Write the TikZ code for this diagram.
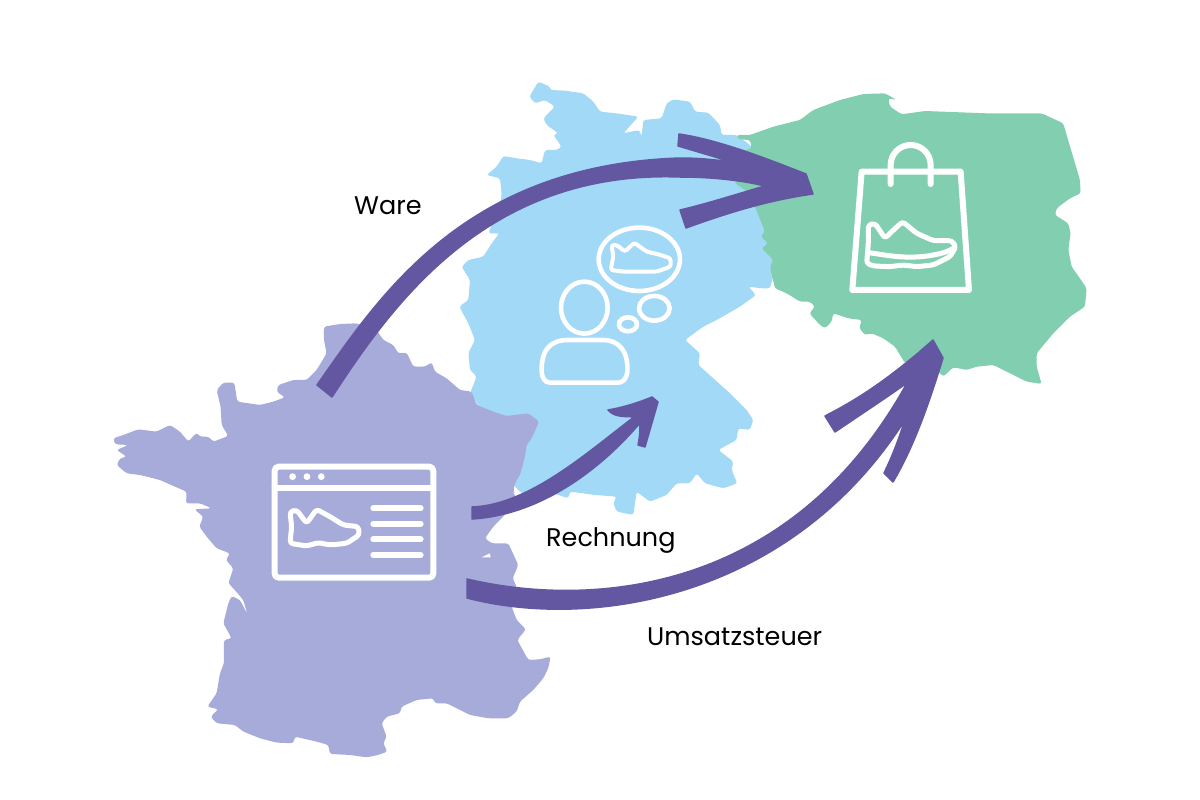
\documentclass[tikz,border=0pt]{standalone}
\usepackage{fontspec}
\setmainfont{Poppins}
\definecolor{frcol}{HTML}{A6ABD9}
\definecolor{decol}{HTML}{A2D9F7}
\definecolor{plcol}{HTML}{81CFB0}
\definecolor{arcol}{HTML}{6357A2}
\tikzset{
  mapshape/.style={line join=round,rounded corners=2.5pt},
  icon/.style={draw=white,line width=#1,line join=round,line cap=round},
  icon/.default=6pt,
  brush/.style={fill=arcol,draw=arcol,line width=1.5pt,line join=round},
  lbl/.style={anchor=base west,inner sep=0pt,text=black,font=\fontsize{25.5}{30}\selectfont}
}
\begin{document}
\begin{tikzpicture}[x=1pt,y=-1pt]
\useasboundingbox (0,0) rectangle (1200,800);
\fill[white] (0,0) rectangle (1200,800);
% Germany
\begin{scope}[shift={(450,70)},x=0.3333pt,y=-0.3333pt]
\fill[decol,mapshape] (265,35)--(300,50)--(300,60)--(345,62)--(400,70)--(430,95)--(450,125)--(500,130)--(565,140)--(520,190)--(568,180)--(575,200)--(580,150)--(635,145)--(650,100)--(670,88)--(720,95)--(735,125)--(775,128)--(810,165)--(815,195)--(860,195)--(900,225)--(960,300)--(975,450)--(975,600)--(960,655)--(935,655)--(895,650)--(918,675)--(870,710)--(800,750)--(760,770)--(705,810)--(750,850)--(745,885)--(790,925)--(840,970)--(890,1020)--(910,1050)--(900,1080)--(865,1075)--(860,1110)--(805,1140)--(850,1175)--(845,1200)--(862,1240)--(820,1255)--(765,1240)--(740,1210)--(720,1240)--(680,1240)--(650,1275)--(600,1295)--(560,1265)--(550,1335)--(500,1325)--(490,1300)--(500,1280)--(435,1275)--(360,1265)--(355,1285)--(310,1270)--(215,1270)--(190,1245)--(215,1200)--(225,1130)--(150,1100)--(60,970)--(80,920)--(60,900)--(55,850)--(75,810)--(55,760)--(28,710)--(55,690)--(60,630)--(35,590)--(55,570)--(100,560)--(125,520)--(148,490)--(115,490)--(125,465)--(150,420)--(155,370)--(150,325)--(110,315)--(140,290)--(160,258)--(200,265)--(240,270)--(275,280)--(285,240)--(320,240)--(335,230)--(310,195)--(325,190)--(290,165)--(280,145)--(315,110)--(285,90)--(255,100)--(238,80)--cycle;
\end{scope}
% France
\begin{scope}[shift={(100,310)},x=0.3333pt,y=-0.3333pt]
\fill[frcol,mapshape] (672,50)--(720,42)--(770,40)--(830,60)--(850,90)--(880,105)--(895,130)--(920,128)--(940,170)--(975,170)--(995,157)--(1005,185)--(1040,205)--(1080,240)--(1115,245)--(1130,285)--(1180,305)--(1220,318)--(1285,310)--(1318,335)--(1295,385)--(1280,405)--(1275,440)--(1262,490)--(1245,520)--(1240,545)--(1255,560)--(1210,620)--(1180,650)--(1155,685)--(1175,700)--(1225,700)--(1255,765)--(1238,805)--(1250,830)--(1235,890)--(1250,930)--(1278,958)--(1252,990)--(1285,1050)--(1320,1048)--(1352,1040)--(1345,1075)--(1330,1105)--(1300,1140)--(1260,1175)--(1250,1205)--(1225,1225)--(1165,1225)--(1110,1215)--(1070,1195)--(1040,1180)--(1005,1180)--(1000,1165)--(950,1170)--(905,1190)--(900,1210)--(860,1220)--(845,1240)--(860,1280)--(850,1300)--(862,1325)--(835,1335)--(800,1342)--(750,1335)--(690,1332)--(685,1305)--(650,1295)--(585,1280)--(580,1300)--(530,1298)--(480,1285)--(430,1265)--(405,1245)--(350,1240)--(332,1220)--(355,1198)--(322,1190)--(350,1150)--(360,1090)--(372,1060)--(372,990)--(395,985)--(370,940)--(385,880)--(395,858)--(420,870)--(442,912)--(430,870)--(400,835)--(385,820)--(400,775)--(378,750)--(390,730)--(350,715)--(320,680)--(298,650)--(310,620)--(283,598)--(335,595)--(300,580)--(258,580)--(260,545)--(225,530)--(180,510)--(120,495)--(80,490)--(50,465)--(60,445)--(80,440)--(50,420)--(85,405)--(45,403)--(40,385)--(70,375)--(115,358)--(170,365)--(210,345)--(240,365)--(265,395)--(290,368)--(300,380)--(325,380)--(340,395)--(385,378)--(365,345)--(362,290)--(350,240)--(370,218)--(403,218)--(412,275)--(480,285)--(520,275)--(555,262)--(530,245)--(535,225)--(580,210)--(620,210)--(650,180)--(680,130)--(672,90)--cycle;
\fill[white] (1145,742)--(1170,730)--(1172,742)--cycle;
\fill[white] (1240,545)--(1262,565)--(1250,568)--cycle;
\end{scope}
% Poland
\begin{scope}[shift={(720,80)},x=0.3333pt,y=-0.3333pt]
\fill[plcol,mapshape] (50,165)--(90,165)--(160,140)--(240,120)--(280,90)--(360,60)--(430,42)--(495,40)--(530,60)--(505,55)--(510,80)--(545,103)--(615,93)--(800,100)--(965,100)--(1030,130)--(1040,165)--(1080,300)--(1082,340)--(1050,355)--(1010,385)--(1005,405)--(1045,430)--(1052,460)--(1045,510)--(1055,560)--(1090,610)--(1100,625)--(1095,680)--(1050,710)--(1000,760)--(950,820)--(950,860)--(965,912)--(920,905)--(870,880)--(820,855)--(770,860)--(740,870)--(700,862)--(670,890)--(640,860)--(600,810)--(555,850)--(525,800)--(490,775)--(455,760)--(435,765)--(418,745)--(425,720)--(385,715)--(340,700)--(335,725)--(315,745)--(300,735)--(268,700)--(285,680)--(270,665)--(240,665)--(200,640)--(165,625)--(150,560)--(160,540)--(125,505)--(145,490)--(122,470)--(135,455)--(105,380)--(90,340)--(45,310)--(60,215)--(95,205)--(90,180)--(55,178)--cycle;
% bag
\draw[icon] (425,275)--(722,275)--(747,630)--(397,630)--cycle;
\draw[icon] (512,312)--(512,255) arc[start angle=180,end angle=360,radius=60]--(632,312);
\draw[icon,line width=5pt,rounded corners=3pt] (445,435)--(465,430)--(495,475)--(515,455)--(548,425)--(590,460)--(640,482)--(695,482)--(708,500)--(690,530)--(640,555)--(590,560)--(550,555)--(510,560)--(460,558)--(440,550)--(445,490)--cycle;
\draw[icon,line width=5pt] (445,518) .. controls (500,525) and (560,540) .. (640,525) .. controls (670,520) and (690,512) .. (700,505);
\end{scope}
% browser icon
\begin{scope}[shift={(100,310)},x=0.3333pt,y=-0.3333pt]
\draw[icon,rounded corners=4pt] (524,470) rectangle (1000,803);
\draw[icon] (524,533)--(1000,533);
\foreach \dx in {578,621,664} \fill[white] (\dx,500) circle[radius=3.4pt];
\foreach \ly in {595,641,688,735} \draw[icon] (820,\ly)--(962,\ly);
\draw[icon,line width=5pt,rounded corners=3pt] (570,605)--(590,600)--(620,640)--(650,598)--(690,620)--(730,645)--(775,650)--(778,675)--(740,700)--(690,705)--(655,698)--(620,708)--(570,700)--(575,650)--cycle;
\end{scope}
% person and thought icon
\begin{scope}[shift={(450,70)},x=0.3333pt,y=-0.3333pt]
\draw[icon,line width=4.6pt] (403,713) ellipse[x radius=70,y radius=78];
\draw[icon,line width=4.6pt] (355,810)--(455,810) .. controls (510,810) and (535,845) .. (532,905) .. controls (530,930) and (515,938) .. (505,938)--(300,938) .. controls (285,938) and (275,925) .. (275,900) .. controls (275,840) and (300,810) .. (355,810);
\draw[icon,line width=4.6pt] (568,568) ellipse[x radius=122,y radius=95];
\draw[icon,line width=4.6pt] (613,715) ellipse[x radius=46,y radius=37];
\draw[icon,line width=4.6pt] (534,763) ellipse[x radius=27,y radius=21];
\draw[icon,line width=4pt,rounded corners=2.5pt] (485,525)--(500,525)--(525,545)--(553,518)--(590,545)--(625,553)--(662,565)--(662,590)--(620,605)--(560,605)--(520,605)--(482,600)--(490,560)--cycle;
\end{scope}
% arrows (brush shapes), with named ends
\coordinate (wareTail) at (317,385);
\coordinate (wareTip) at (813,194);
\coordinate (rechTail) at (472,507);
\coordinate (rechTip) at (652,397);
\coordinate (ustTail) at (467,579);
\coordinate (ustTip) at (933,340);
% Ware
\filldraw[brush] (wareTail) .. controls (380,295) and (465,165) .. (680,158) .. controls (700,158) and (720,160) .. (735,163) .. controls (715,157) and (695,151) .. (678,146) -- (679,134) .. controls (720,140) and (770,160) .. (806,174) -- (wareTip) .. controls (770,200) and (730,212) .. (686,228) -- (680,210) .. controls (710,203) and (740,193) .. (765,186) .. controls (740,180) and (710,177) .. (680,177) .. controls (490,170) and (395,300) .. (332,397) -- cycle;
% Rechnung
\filldraw[brush] (rechTail) .. controls (530,505) and (590,450) .. (634,417) .. controls (625,416) and (615,418) .. (608,410) .. controls (625,407) and (640,402) .. (rechTip) -- (658,402) -- (645,447) -- (638,445) .. controls (640,435) and (640,430) .. (640,423) .. controls (600,470) and (540,515) .. (472,519) -- cycle;
% Umsatzsteuer
\filldraw[brush] (ustTail) .. controls (590,608) and (790,595) .. (907,383) .. controls (880,402) and (860,415) .. (835,432) -- (825,416) .. controls (860,398) and (890,378) .. (ustTip) -- (943,358) .. controls (930,400) and (915,445) .. (893,482) -- (884,473) .. controls (893,455) and (900,435) .. (905,420) .. controls (790,600) and (590,630) .. (467,598) -- cycle;
% labels
\node[lbl] (ware) at (354,214) {Ware};
\node[lbl] (rechnung) at (546,546) {Rechnung};
\node[lbl] (ust) at (647,645) {Umsatzsteuer};
\end{tikzpicture}
\end{document}
